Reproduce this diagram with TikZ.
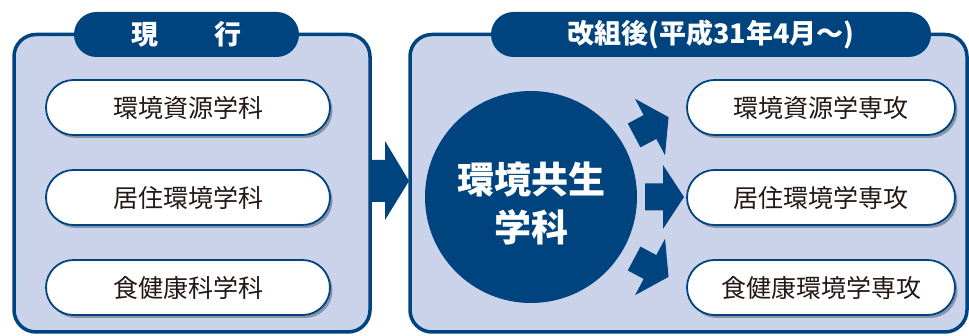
\documentclass[tikz,border=0pt]{standalone}
\usepackage{fontspec}
\setmainfont{Noto Sans CJK JP}
\usetikzlibrary{shadows}
\definecolor{navy}{HTML}{00447F}
\definecolor{panel}{HTML}{CBD3EB}
\definecolor{ink}{HTML}{231815}
\begin{document}
\begin{tikzpicture}[x=1pt,y=-1pt,
  panelbox/.style={draw=navy, line width=3.5pt, fill=panel, rounded corners=22pt, minimum height=297.5pt},
  tabbox/.style={fill=navy, rounded corners=22.5pt, minimum height=45pt, text=white, inner sep=0pt,
    font=\fontsize{27}{30}\selectfont\bfseries},
  dept/.style={draw=navy, line width=1.8pt, fill=white, rounded corners=27.5pt,
    minimum height=55pt, text=ink, inner sep=0pt, font=\fontsize{25}{28}\selectfont,
    drop shadow={shadow xshift=2.5pt, shadow yshift=-3pt, fill=black!60!navy, opacity=0.35}},
  blockarrow/.pic={\fill[navy] (-18,-13.5) -- (0,-13.5) -- (0,-32) -- (21,0) -- (0,32) -- (0,13.5) -- (-18,13.5) -- cycle;}
]
\useasboundingbox[fill=white] (0,0) rectangle (969,336);
% panels
\node[panelbox, minimum width=356pt] (left) at (192,183.25) {};
\node[panelbox, minimum width=557pt] (right) at (688.5,183.25) {};
% tabs
\node[tabbox, minimum width=225pt] (tabL) at (186.5,34.5) {現\hspace{57pt}行};
\node[tabbox, minimum width=440pt] (tabR) at (711,34.5) {改組後(平成31年4月～)};
% left departments
\node[dept, minimum width=284pt] (l1) at (188,107.5) {環境資源学科};
\node[dept, minimum width=284pt] (l2) at (188,197.5) {居住環境学科};
\node[dept, minimum width=284pt] (l3) at (188,287.5) {食健康科学科};
% right majors
\node[dept, minimum width=268pt] (r1) at (821,107.5) {環境資源学専攻};
\node[dept, minimum width=268pt] (r2) at (821,197.5) {居住環境学専攻};
\node[dept, minimum width=268pt] (r3) at (821,287.5) {食健康環境学専攻};
% core circle
\node[circle, fill=navy, minimum size=212pt, inner sep=0pt] (core) at (531,197) {};
\node[text=white, align=center, font=\fontsize{37}{48}\selectfont\bfseries] (coretext) at (531,203) {環境共生\\学科};
% big arrow between panels
\fill[navy] (371,160) -- (385,160) -- (385,141) -- (409,181) -- (385,220) -- (385,202) -- (371,202) -- cycle;
% small arrows
\pic[shift={(650,127)}, rotate=28] {blockarrow};
\pic[shift={(663,197)}] {blockarrow};
\pic[shift={(650,267)}, rotate=-28] {blockarrow};
\end{tikzpicture}
\end{document}
